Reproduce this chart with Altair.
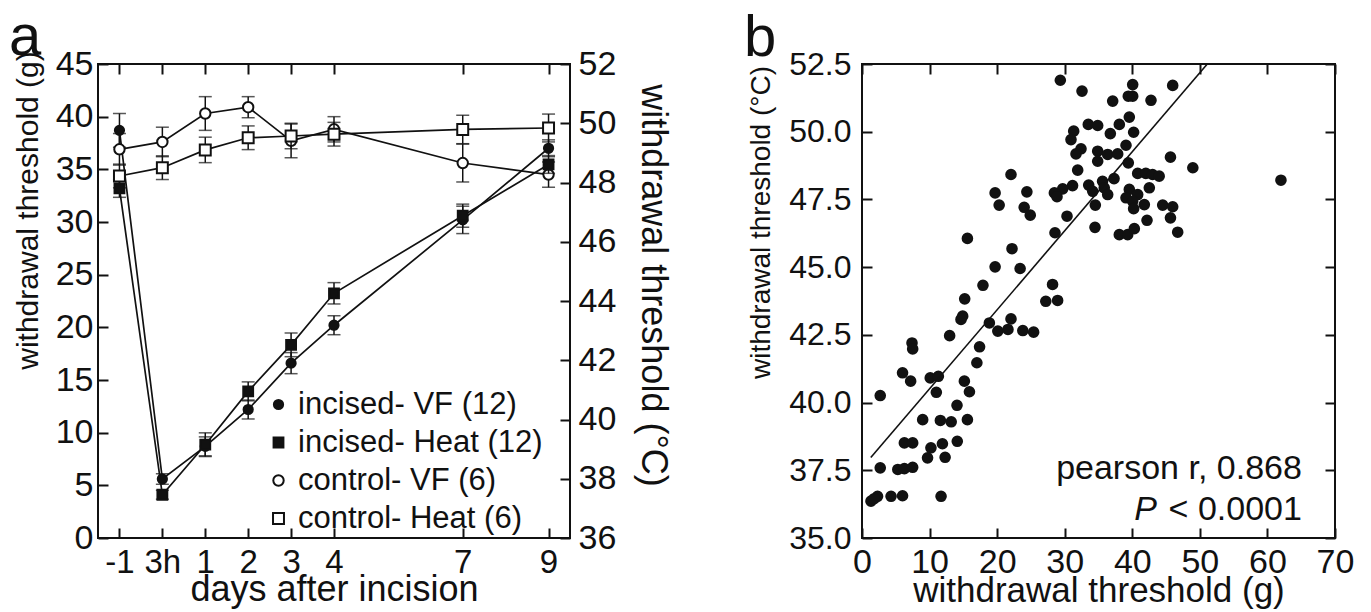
import altair as alt
import pandas as pd

FONT = "Liberation Sans"
INK = "#111111"

# ---------------- panel a data ----------------
days = [-1, 0, 1, 2, 3, 4, 7, 9]
day_labels = ["-1", "3h", "1", "2", "3", "4", "7", "9"]

series_names = ["incised- VF (12)", "incised- Heat (12)", "control- VF (6)", "control- Heat (6)"]

inc_vf_mean = [38.7, 5.6, 8.7, 12.2, 16.6, 20.2, 30.2, 37.0]
inc_vf_err = [1.6, 0.5, 0.9, 0.9, 1.0, 0.9, 1.3, 0.8]
ctl_vf_mean = [36.9, 37.6, 40.3, 40.9, 37.7, 38.8, 35.6, 34.5]
ctl_vf_err = [1.5, 1.4, 1.6, 1.0, 1.6, 1.2, 1.8, 1.2]

inc_heat_mean = [47.8, 37.46, 39.15, 40.95, 42.52, 44.26, 46.88, 48.61]
inc_heat_err = [0.3, 0.15, 0.4, 0.32, 0.4, 0.36, 0.39, 0.3]
ctl_heat_mean = [48.22, 48.5, 49.1, 49.51, 49.57, 49.63, 49.79, 49.84]
ctl_heat_err = [0.4, 0.4, 0.43, 0.4, 0.43, 0.4, 0.48, 0.47]

g_ticks = [0, 5, 10, 15, 20, 25, 30, 35, 40, 45]
c_ticks = [36, 38, 40, 42, 44, 46, 48, 50, 52]

# ---------------- panel b data ----------------
scatter_x = [
    29.35, 32.56, 40.06, 45.98, 39.41, 40.06, 37.1, 42.77, 39.56, 33.49,
    34.88, 38.08, 31.33, 36.75, 40.2, 30.93, 39.07, 32.41, 34.88, 31.67,
    36.36, 37.84, 34.88, 39.41, 45.65, 48.96, 31.92, 62.0, 40.8, 42.0,
    43.0, 43.98, 37.3, 35.6, 31.16, 29.7, 28.47, 33.55, 35.85, 39.56,
    42.52, 34.15, 36.36, 28.86, 39.07, 40.8, 40.06, 41.78, 44.5, 45.98,
    34.53, 40.2, 30.34, 45.65, 42.18, 28.56, 34.48, 38.08, 39.32, 40.3,
    46.72,
    22.05, 19.7, 24.4, 20.3, 24.0, 24.9, 15.6, 22.2, 19.7, 23.4,
    17.9, 15.2, 28.2, 27.2, 28.95,
    14.9, 14.65, 18.85, 20.1, 21.6, 22.05, 23.8, 25.4, 12.97, 17.4,
    7.4, 7.5, 17.0, 6.0, 7.2, 10.1, 11.3, 11.0, 15.15, 15.9,
    2.7, 14.06, 8.98, 11.6, 13.2, 15.6, 6.27, 7.5, 10.2, 11.9,
    14.1, 9.7, 12.3, 2.7, 5.3, 6.27, 7.5, 1.33, 2.3, 1.8,
    4.3, 6.0, 11.7,
]
scatter_y = [
    51.90, 51.50, 51.74, 51.71, 51.31, 51.31, 51.13, 51.16, 50.54, 50.27,
    50.23, 50.27, 50.02, 49.93, 49.98, 49.71, 49.50, 49.37, 49.28, 49.18,
    49.16, 49.18, 48.91, 48.85, 49.06, 48.67, 48.58, 48.21, 48.46, 48.46,
    48.42, 48.36, 48.27, 48.17, 48.01, 47.89, 47.74, 48.03, 47.93, 47.87,
    47.93, 47.80, 47.68, 47.60, 47.56, 47.68, 47.43, 47.31, 47.29, 47.23,
    47.29, 47.16, 46.88, 46.82, 46.73, 46.27, 46.47, 46.20, 46.20, 46.42,
    46.29,
    48.42, 47.74, 47.78, 47.29, 47.21, 46.92, 46.06, 45.68, 45.01, 44.95,
    44.33, 43.83, 44.36, 43.74, 43.77,
    43.19, 43.07, 42.94, 42.64, 42.70, 43.09, 42.66, 42.60, 42.47, 42.06,
    42.20, 41.98, 41.47, 41.10, 40.79, 40.91, 40.97, 40.38, 40.79, 40.40,
    40.26, 39.90, 39.37, 39.34, 39.29, 39.37, 38.51, 38.51, 38.33, 38.48,
    38.57, 37.96, 37.98, 37.59, 37.53, 37.56, 37.61, 36.36, 36.54, 36.45,
    36.54, 36.56, 36.54,
]
fit_x = [1.3, 51.1]
fit_y = [37.97, 52.5]

b_x_ticks = [0, 10, 20, 30, 40, 50, 60, 70]
b_y_ticks = [35.0, 37.5, 40.0, 42.5, 45.0, 47.5, 50.0, 52.5]

stat_text = ["pearson r, 0.868", "< 0.0001", "P"]
stat_x = [65.1, 65.1, 65.1]
stat_y = [37.16, 35.68, 35.68]

# ---------------- tables ----------------
def make_rows(name, means, errs):
    return [
        {"series": name, "day": d, "mean": m, "lo": m - e, "hi": m + e}
        for d, m, e in zip(days, means, errs)
    ]

vf_df = pd.DataFrame(make_rows(series_names[0], inc_vf_mean, inc_vf_err)
                     + make_rows(series_names[2], ctl_vf_mean, ctl_vf_err))
heat_df = pd.DataFrame(make_rows(series_names[1], inc_heat_mean, inc_heat_err)
                       + make_rows(series_names[3], ctl_heat_mean, ctl_heat_err))
scatter_df = pd.DataFrame({"x": scatter_x, "y": scatter_y})
fit_df = pd.DataFrame({"x": fit_x, "y": fit_y})
stat_df = pd.DataFrame({"t": stat_text, "x": stat_x, "y": stat_y})

W, H = 472, 474
TICK = dict(offset=-10, tickSize=10, tickWidth=2, tickColor=INK, domain=False,
            grid=False, labelFlush=False, labelOverlap=False, labelBound=False,
            labelFont=FONT, labelColor=INK, titleFont=FONT, titleColor=INK,
            titleFontWeight="normal")

x_scale = alt.Scale(domain=[-1.5, 9.5], nice=False, zero=False)
g_scale = alt.Scale(domain=[0, 45], nice=False, zero=False)
c_scale = alt.Scale(domain=[36, 52], nice=False, zero=False)

label_expr = "[" + ",".join("'%s'" % s for s in day_labels) + "][indexof([" + \
    ",".join(str(d) for d in days) + "], datum.value)]"

ax_a_bottom = alt.Axis(orient="bottom", values=days, labelExpr=label_expr,
                       labelFontSize=33, labelPadding=8,
                       title="days after incision", titleFontSize=36,
                       titleBaseline="alphabetic", titleY=72, **TICK)
ax_a_top = alt.Axis(orient="top", values=days, labels=False, title=None, **TICK)
ax_a_left = alt.Axis(orient="left", values=g_ticks, labelFontSize=34, labelPadding=5,
                     title="withdrawal threshold (g)", titleFontSize=30,
                     titleAngle=270, titleBaseline="middle", titleAlign="center",
                     titleX=-80, titleY=146, **TICK)
ax_a_right = alt.Axis(orient="right", values=c_ticks, labelFontSize=34, labelPadding=8,
                      title="withdrawal threshold (°C)", titleFontSize=36,
                      titleAngle=90, titleBaseline="middle", titleAlign="center",
                      titleX=92, titleY=221, **TICK)

legend = alt.Legend(orient="none", legendX=165, legendY=325, title=None,
                    labelFont=FONT, labelFontSize=31, labelColor=INK, labelLimit=400,
                    symbolStrokeColor=INK, symbolStrokeWidth=2,
                    rowPadding=6, labelOffset=4, padding=0)

shape_enc = alt.Shape("series:N", scale=alt.Scale(domain=series_names,
                      range=["circle", "square", "circle", "square"]), legend=legend)
fill_enc = alt.Fill("series:N", scale=alt.Scale(domain=series_names,
                    range=[INK, INK, "white", "white"]), legend=legend)
stroke_enc = alt.Stroke("series:N", scale=alt.Scale(domain=series_names,
                        range=[INK, INK, INK, INK]), legend=legend)
size_enc = alt.Size("series:N", scale=alt.Scale(domain=series_names,
                    range=[85, 120, 110, 125]), legend=legend)


def series_layer(df, y_scale, x_axis, y_axis):
    base = alt.Chart(df)
    x = alt.X("day:Q", scale=x_scale, axis=x_axis)
    line = base.mark_line(color=INK, strokeWidth=1.7).encode(
        x=x, y=alt.Y("mean:Q", scale=y_scale, axis=y_axis), detail="series:N")
    rule = base.mark_rule(color=INK, strokeWidth=1.5).encode(
        x=x, y=alt.Y("lo:Q", scale=y_scale, axis=y_axis), y2="hi:Q")
    tick_lo = base.mark_tick(color=INK, thickness=1.5, size=13, orient="horizontal").encode(
        x=x, y=alt.Y("lo:Q", scale=y_scale, axis=y_axis))
    tick_hi = base.mark_tick(color=INK, thickness=1.5, size=13, orient="horizontal").encode(
        x=x, y=alt.Y("hi:Q", scale=y_scale, axis=y_axis))
    pts = base.mark_point(filled=True, strokeWidth=2, opacity=1).encode(
        x=x, y=alt.Y("mean:Q", scale=y_scale, axis=y_axis),
        shape=shape_enc, fill=fill_enc, stroke=stroke_enc, size=size_enc)
    return alt.layer(line, rule, tick_lo, tick_hi, pts)


vf_layer = series_layer(vf_df, g_scale, ax_a_bottom, ax_a_left)
heat_layer = series_layer(heat_df, c_scale, ax_a_top, ax_a_right)

panel_a = alt.layer(vf_layer, heat_layer).resolve_scale(y="independent").resolve_axis(
    x="independent", y="independent").properties(
    width=W, height=H,
    title=alt.TitleParams("a", anchor="start", frame="group", dx=-89, fontSize=58,
                          font=FONT, fontWeight="normal", color=INK,
                          baseline="alphabetic", offset=-66))

# ---------------- panel b ----------------
bx_scale = alt.Scale(domain=[0, 70], nice=False, zero=False)
by_scale = alt.Scale(domain=[35, 52.5], nice=False, zero=False)

ax_b_bottom = alt.Axis(orient="bottom", values=b_x_ticks, labelFontSize=34, labelPadding=7,
                       title="withdrawal threshold (g)", titleFontSize=35,
                       titleBaseline="alphabetic", titleY=73, **TICK)
ax_b_top = alt.Axis(orient="top", values=b_x_ticks, labels=False, title=None, **TICK)
ax_b_left = alt.Axis(orient="left", values=b_y_ticks, format=".1f", labelFontSize=32,
                     labelPadding=11, title="withdrawal threshold (°C)", titleFontSize=28,
                     titleAngle=270, titleBaseline="middle", titleAlign="center",
                     titleX=-111, titleY=158, **TICK)
ax_b_right = alt.Axis(orient="right", values=b_y_ticks, labels=False, title=None, **TICK)

scatter = alt.Chart(scatter_df).mark_circle(size=135, color=INK, opacity=1).encode(
    x=alt.X("x:Q", scale=bx_scale, axis=ax_b_bottom),
    y=alt.Y("y:Q", scale=by_scale, axis=ax_b_left))
fit = alt.Chart(fit_df).mark_line(color=INK, strokeWidth=1.6).encode(
    x=alt.X("x:Q", scale=bx_scale, axis=ax_b_top),
    y=alt.Y("y:Q", scale=by_scale, axis=ax_b_right))
stat_main = alt.Chart(stat_df.iloc[:2]).mark_text(
    align="right", baseline="alphabetic", font=FONT, fontSize=34, color=INK).encode(
    x=alt.X("x:Q", scale=bx_scale, axis=None),
    y=alt.Y("y:Q", scale=by_scale, axis=None), text="t:N")
stat_p = alt.Chart(stat_df.iloc[2:]).mark_text(
    align="right", baseline="alphabetic", font=FONT, fontSize=34, fontStyle="italic",
    color=INK, dx=-145).encode(
    x=alt.X("x:Q", scale=bx_scale, axis=None),
    y=alt.Y("y:Q", scale=by_scale, axis=None), text="t:N")

panel_b = alt.layer(scatter, fit, stat_main, stat_p).resolve_axis(
    x="independent", y="independent").properties(
    width=473, height=H,
    title=alt.TitleParams("b", anchor="start", frame="group", dx=-118, fontSize=58,
                          font=FONT, fontWeight="normal", color=INK,
                          baseline="alphabetic", offset=-66))

chart = alt.hconcat(panel_a, panel_b, spacing=292, bounds="flush").resolve_scale(
    shape="independent", fill="independent", size="independent", stroke="independent"
).resolve_legend(
    shape="independent", fill="independent", size="independent", stroke="independent"
).properties(
    padding={"left": 0, "top": 0, "right": 0, "bottom": 0}
).configure_view(stroke=INK, strokeWidth=2)

chart.save("out.html", embed_options={"renderer": "svg", "actions": False})
